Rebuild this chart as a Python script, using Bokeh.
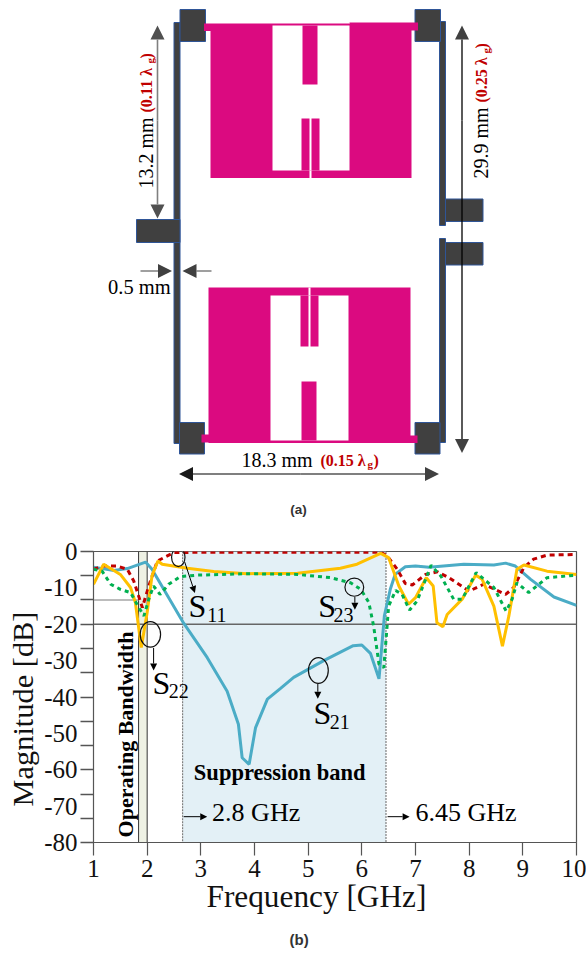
from math import pi
from bokeh.plotting import figure
from bokeh.layouts import column
from bokeh.models import Range1d, FixedTicker, Title, Arrow, NormalHead
from bokeh.core.properties import value
from bokeh.embed import file_html
from bokeh.resources import INLINE

# ---------- chart values ----------
s21_f = [1,1.38,1.63,1.97,2.09,2.68,3.12,3.49,3.7,3.77,3.9,4.02,4.24,4.48,4.73,5.29,5.84,6.0,6.16,6.32,6.42,6.53,6.62,6.81,7,7.25,7.9,8.46,8.68,8.86,9.14,9.58,10]
s21_m = [-4.3,-5.2,-4.7,-2.9,-4.9,-19.7,-29.2,-38.4,-47.5,-56.7,-58.5,-48.4,-40.6,-37.7,-34.6,-30,-25.9,-25.7,-28,-35,-17.7,-10.4,-6.3,-4.2,-4,-4.3,-3.5,-3.7,-3.2,-4,-7.6,-12.5,-14.8]
s11_f = [1,1.19,1.44,1.63,1.75,1.91,2.03,2.19,2.5,3,4,5,6,6.35,6.47,6.66,6.81,6.94,7.19,7.41,7.62,8,8.27,8.68,8.83,9.02,9.2,9.45,10]
s11_m = [-4.9,-4,-4,-4.9,-8.1,-15.4,-9.5,-2.6,-0.3,-0.2,-0.2,-0.2,-0.2,-0.2,-1.2,-4.9,-8.8,-9.2,-6.3,-5.6,-7.2,-10.9,-9,-11.8,-9.9,-4.4,-2.1,-1,-0.8]
s22_f = [1,1.19,1.5,1.69,1.78,1.89,2,2.09,2.2,2.28,2.75,3.24,3.86,4.8,5.6,5.91,6.35,6.5,6.69,6.87,7,7.2,7.33,7.4,7.51,7.59,7.87,8.12,8.24,8.46,8.62,8.74,8.89,9.02,9.45,10]
s22_m = [-9,-3.5,-6.3,-9.9,-14,-26.4,-16.8,-6.7,-2.6,-3.5,-4.6,-5.5,-6.1,-6,-4.6,-3.5,-0.5,-1.7,-9.5,-14.5,-12.7,-7.2,-9.5,-19.6,-20.7,-17.3,-13.1,-6.5,-7.6,-15,-26,-17.7,-4.9,-3.7,-5.4,-6.3]
s23_f = [1,1.16,1.32,1.5,1.69,1.81,1.94,2.03,2.12,2.24,2.4,2.62,2.93,3.86,4.8,5.42,5.79,5.98,6.13,6.22,6.32,6.41,6.5,6.63,6.75,6.89,7.03,7.19,7.29,7.47,7.71,7.87,8.13,8.46,8.69,8.8,8.89,9.11,9.45,10]
s23_m = [-4.9,-5.4,-9,-10.4,-11.3,-14.5,-17.7,-13.1,-9.5,-11.8,-9,-6.9,-6.5,-6.1,-6.3,-7.2,-8.6,-10.4,-14,-20.5,-31,-31.9,-15,-10.7,-11.8,-16.1,-13.6,-7.6,-3.8,-6.7,-13.1,-13.1,-5.8,-9.9,-16.4,-13.1,-8.6,-11.3,-7.2,-6.5]
x_ticks = [1,2,3,4,5,6,7,8,9,10]
y_ticks = [0,-10,-20,-30,-40,-50,-60,-70,-80]
y_tick_marks = [0,-6.67,-13.33,-20,-26.67,-33.33,-40,-46.67,-53.33,-60,-66.67,-73.33,-80]
op_band = (1.84, 2.0)
sup_band = (2.66, 6.45)

SERIF = value("Liberation Serif")
DARK, EDGE, MAG, RED = "#404040", "#2f5597", "#db0a80", "#c00000"

# ---------- schematic (a), drawn on a scale that matches the page ----------
sch = figure(width=586, height=530, x_range=Range1d(0, 586), y_range=Range1d(530, 0),
             x_axis_type=None, y_axis_type=None, toolbar_location=None, output_backend="svg",
             min_border=0, outline_line_color=None, frame_align=False)
sch.grid.visible = False

def rects(p, boxes, fill, edge=None):
    p.quad(left=[b[0] for b in boxes], right=[b[1] for b in boxes],
           top=[b[2] for b in boxes], bottom=[b[3] for b in boxes],
           fill_color=fill, line_color=edge, line_width=1)

lines_box = [(173.5,179.5,22,443),(439,445,21,225),(439,445,238,442)]
pads_box = [(179.5,205,9,41),(414.5,440,9,41),(136,179.5,219,242),(445,482.5,198.5,221),
            (445,482.5,242,264.5),(179,204,422,453.5),(414.5,439.5,422,453.5)]
rects(sch, lines_box, DARK, EDGE)
rects(sch, pads_box, DARK, EDGE)

mag_box = [(210,411,23.5,177.5),(203.5,349,23,30.5),(349,417.5,22,30),
           (208,410,287,442.5),(201,349,434,442),(348,417,435,442.5)]
white_box = [(272,349,25,170),(270,348,295,440)]
stub_box = [(302,317,25,84),(301,309,118,170),(311,319,118,170),
            (301,316,381,440),(300,308,295,346),(310,318,295,346)]
slit_box = [(309,311,170,177.5),(308,310,287,295)]
rects(sch, mag_box, MAG)
rects(sch, white_box, "white")
rects(sch, stub_box, MAG)
rects(sch, slit_box, "white")

def stext(p, x, y, t, size, color="black", bold=False, angle=0, align="left", font=SERIF):
    shift = -0.38 * size
    p.text(x=[x], y=[y], text=[t], text_font=font, text_font_size=f"{size}px", text_color=color,
           text_font_style="bold" if bold else "normal", angle=angle, text_align=align,
           text_baseline="alphabetic",
           x_offset=shift if angle else 0, y_offset=0 if angle else shift)

def arrow(p, x0, y0, x1, y1, color, size, lw=1.2, shaft=None):
    p.add_layout(Arrow(x_start=x0, y_start=y0, x_end=x1, y_end=y1, line_color=shaft or color, line_width=lw,
                       end=NormalHead(size=size, fill_color=color, line_color=color, line_width=0)))

arrow(sch, 157, 120, 157, 25, "#505050", 14, 1.6, "#7f7f7f")
arrow(sch, 157, 120, 157, 218, "#505050", 14, 1.6, "#7f7f7f")
arrow(sch, 461.5, 120, 461.5, 25, DARK, 14, 1.3, "black")
arrow(sch, 461.5, 120, 461.5, 452.5, DARK, 14, 1.3, "black")
arrow(sch, 140, 270.5, 171.5, 270.5, DARK, 14, 1.2)
arrow(sch, 211, 270.5, 182, 270.5, DARK, 14, 1.2)
arrow(sch, 300, 473.5, 178.5, 473.5, "#1a1a1a", 14, 1.2, "black")
arrow(sch, 300, 473.5, 438.5, 473.5, DARK, 14, 1.2, "black")

stext(sch, 153, 188, "13.2 mm", 20, angle=pi/2)
stext(sch, 152, 112, "(0.11 λ", 16, RED, True, pi/2)
stext(sch, 154, 63, "g", 11, RED, True, pi/2)
stext(sch, 152, 58, ")", 16, RED, True, pi/2)
stext(sch, 488, 178, "29.9 mm", 20, angle=pi/2)
stext(sch, 487.5, 102, "(0.25 λ", 16, RED, True, pi/2)
stext(sch, 489.5, 53, "g", 11, RED, True, pi/2)
stext(sch, 487.5, 48, ")", 16, RED, True, pi/2)
stext(sch, 107.5, 294, "0.5 mm", 20.5)
stext(sch, 241, 467.5, "18.3 mm", 20)
stext(sch, 320, 466, "(0.15 λ", 16, RED, True)
stext(sch, 367, 468, "g", 11, RED, True)
stext(sch, 373, 466, ")", 16, RED, True)
stext(sch, 298, 514, "(a)", 13.5, "#333333", True, align="center", font=value("Liberation Sans"))

# ---------- chart (b) ----------
p = figure(width=586, height=430, frame_width=483, frame_height=291, frame_align=False,
           x_range=Range1d(1, 10), y_range=Range1d(-80, 0), toolbar_location=None, output_backend="svg",
           min_border_left=93, min_border_right=10, min_border_top=21, min_border_bottom=118,
           outline_line_color="#555555", outline_line_width=1.2)
p.grid.visible = False
AX = "#555555"
p.xaxis.ticker = FixedTicker(ticks=x_ticks)
p.xaxis.major_label_overrides = {v: str(v) for v in x_ticks}
p.yaxis.ticker = FixedTicker(ticks=y_ticks, minor_ticks=y_tick_marks)
p.yaxis.major_label_overrides = {v: str(v) for v in y_ticks}
for ax in (p.xaxis[0], p.yaxis[0]):
    ax.axis_line_color = AX
    ax.major_label_text_font = "Liberation Serif"
    ax.major_label_text_font_size = "25px"
    ax.major_label_text_color = "#111111"
    ax.major_tick_in = 0
    ax.major_tick_out = 13
    ax.major_tick_line_color = AX
    ax.major_tick_line_width = 1.2
    ax.minor_tick_line_color = None
ax = p.yaxis[0]
ax.major_tick_line_color = None
ax.minor_tick_in = 0
ax.minor_tick_out = 13
ax.minor_tick_line_color = AX
ax.minor_tick_line_width = 1.3
ax.major_label_standoff = 3
p.xaxis[0].major_label_standoff = 4

p.quad(left=[sup_band[0]], right=[sup_band[1]], top=[0], bottom=[-80], fill_color="#e3f0f6",
       line_color="#7f7f7f", line_dash="2 1", line_width=1.2)
p.quad(left=[op_band[0]], right=[op_band[1]], top=[0], bottom=[-80], fill_color="#eef1e4",
       line_color="#333333", line_width=1)
p.line([1, 1.84], [-13.33, -13.33], line_color="#a6a6a6", line_width=1.5)
p.line([1, 10], [-20, -20], line_color="#666666", line_width=1.3)

p.line(s21_f, s21_m, line_color="#4bacc6", line_width=3)
p.line(s11_f, s11_m, line_color=RED, line_width=3, line_dash="5 4")
p.line(s22_f, s22_m, line_color="#ffc000", line_width=3)
p.line(s23_f, s23_m, line_color="#00b050", line_width=3, line_dash="4 4")

p.ellipse(x=[2.58, 2.06, 5.19, 5.86], y=[-1.6, -22.8, -32.7, -9.8], width=[.25, .38, .37, .35],
          height=[5.1, 7, 7.1, 5], fill_color=None, line_color="#111111", line_width=1.2)
arrow(p, 2.70, -2.9, 2.89, -11.4, "black", 7, 1)
arrow(p, 2.12, -26.5, 2.12, -32.7, "black", 7, 1)
arrow(p, 5.18, -36.4, 5.18, -40.5, "black", 7, 1)
arrow(p, 5.87, -12.5, 5.87, -16, "black", 7, 1)
arrow(p, 2.68, -72.9, 3.12, -72.9, "black", 7, 1)
arrow(p, 6.48, -72.9, 6.89, -72.9, "black", 7, 1)

for sx, sy, bx, by, sub in [(2.77, -18.4, 3.12, -19.5, "11"), (2.10, -39.6, 2.40, -40.4, "22"),
                            (5.10, -47.8, 5.40, -49, "21"), (5.19, -18.4, 5.47, -19.5, "23")]:
    stext(p, sx, sy, "S", 32)
    stext(p, bx, by, sub, 20)
stext(p, 3.21, -74.4, "2.8 GHz", 26)
stext(p, 7.0, -74.4, "6.45 GHz", 26)
stext(p, 2.87, -63.1, "Suppression band", 22.5, bold=True)
stext(p, 1.745, -78.6, "Operating Bandwidth", 22, bold=True, angle=pi/2)

p.add_layout(Title(text="Frequency [GHz]", text_font="Liberation Serif", text_font_style="normal",
                   text_font_size="31.3px", text_color="#111111", align="left", offset=113, standoff=-5), "below")
p.add_layout(Title(text="(b)", text_font="Liberation Sans", text_font_style="bold",
                   text_font_size="15px", text_color="#333333", align="left", offset=196, standoff=34), "below")
p.add_layout(Title(text="Magnitude [dB]", text_font="Liberation Serif", text_font_style="normal",
                   text_font_size="30.4px", text_color="#111111", align="left", offset=36, standoff=3), "left")

layout = column(sch, p, spacing=0)
open("out.html", "w").write(file_html(layout, INLINE))
